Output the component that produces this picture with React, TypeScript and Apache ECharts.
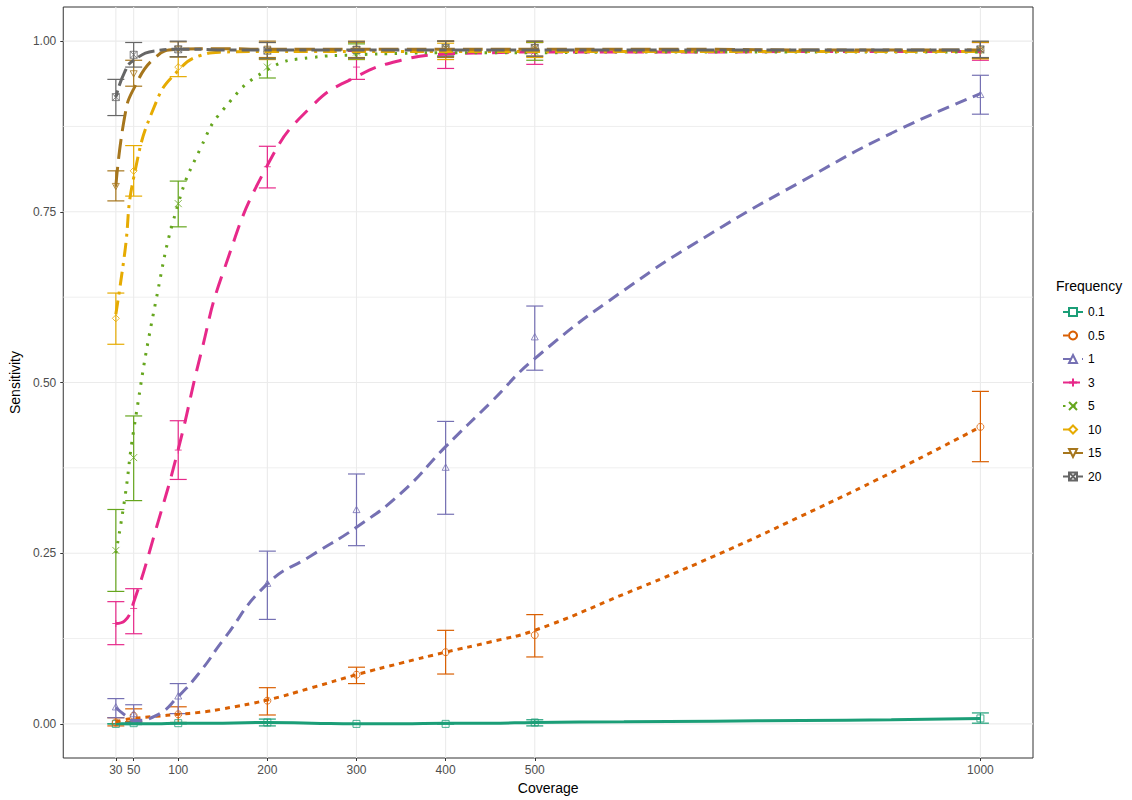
import React, { useEffect, useRef } from "react";
import * as echarts from "echarts";

const FONT = "Liberation Sans, Arial, sans-serif";

// Observed coverage levels (x axis breaks)
const coverage = [30, 50, 100, 200, 300, 400, 500, 1000];
const xTickLabels = ["30", "50", "100", "200", "300", "400", "500", "1000"];
const yTickValues = [0, 0.25, 0.5, 0.75, 1];
const yMinorValues = [0.125, 0.375, 0.625, 0.875];

const frequencies = ["0.1", "0.5", "1", "3", "5", "10", "15", "20"];
const colors = ["#1B9E77", "#D95F02", "#7570B3", "#E7298A", "#66A61E", "#E6AB02", "#A6761D", "#666666"];

// Mean sensitivity at each coverage, with error bar bounds
const mean01 = [0.0, 0.001, 0.001, 0.002, 0.0, 0.0, 0.002, 0.008];
const lo01 = [0.0, -0.001, 0.0, -0.003, 0.0, 0.0, -0.003, 0.001];
const hi01 = [0.0, 0.003, 0.002, 0.007, 0.0, 0.0, 0.006, 0.016];

const mean05 = [0.002, 0.012, 0.014, 0.034, 0.072, 0.105, 0.13, 0.435];
const lo05 = [-0.003, 0.003, 0.002, 0.013, 0.059, 0.073, 0.098, 0.384];
const hi05 = [0.009, 0.022, 0.025, 0.053, 0.083, 0.137, 0.16, 0.487];

const mean1 = [0.025, 0.015, 0.041, 0.206, 0.314, 0.376, 0.567, 0.922];
const lo1 = [0.009, 0.002, 0.015, 0.153, 0.261, 0.307, 0.518, 0.893];
const hi1 = [0.037, 0.028, 0.059, 0.253, 0.366, 0.443, 0.612, 0.95];

const mean3 = [0.147, 0.169, 0.401, 0.816, 0.962, 0.982, 0.983, 0.985];
const lo3 = [0.116, 0.132, 0.358, 0.785, 0.944, 0.96, 0.966, 0.972];
const hi3 = [0.179, 0.198, 0.444, 0.846, 0.985, 1.0, 0.998, 0.998];

const mean5 = [0.254, 0.39, 0.762, 0.962, 0.984, 0.99, 0.985, 0.987];
const lo5 = [0.194, 0.327, 0.728, 0.946, 0.973, 0.978, 0.972, 0.975];
const hi5 = [0.314, 0.451, 0.795, 0.975, 0.996, 1.0, 0.998, 0.999];

const mean10 = [0.594, 0.81, 0.962, 0.985, 0.986, 0.985, 0.988, 0.986];
const lo10 = [0.556, 0.773, 0.948, 0.973, 0.974, 0.973, 0.976, 0.974];
const hi10 = [0.631, 0.847, 0.977, 0.998, 0.998, 0.997, 0.999, 0.998];

const mean15 = [0.787, 0.952, 0.988, 0.988, 0.988, 0.988, 0.99, 0.987];
const lo15 = [0.766, 0.934, 0.977, 0.976, 0.976, 0.976, 0.978, 0.975];
const hi15 = [0.81, 0.972, 0.999, 1.0, 1.0, 1.0, 1.0, 0.999];

const mean20 = [0.918, 0.98, 0.988, 0.986, 0.987, 0.99, 0.99, 0.988];
const lo20 = [0.891, 0.962, 0.977, 0.974, 0.975, 0.978, 0.978, 0.976];
const hi20 = [0.944, 0.998, 1.0, 0.998, 0.999, 1.0, 1.0, 1.0];

// Smoothed fit curves
const fitCoverage = [30, 40, 50, 75, 100, 125, 150, 200, 250, 300, 350, 400, 450, 500, 600, 700, 800, 900, 1000];
const fit01 = [0.0, 0.0, 0.0, 0.0, 0.001, 0.001, 0.001, 0.002, 0.001, 0.0, 0.0, 0.001, 0.001, 0.002, 0.003, 0.004, 0.005, 0.006, 0.008];
const fit05 = [0.003, 0.006, 0.008, 0.011, 0.014, 0.017, 0.022, 0.035, 0.053, 0.072, 0.089, 0.105, 0.12, 0.137, 0.19, 0.245, 0.305, 0.368, 0.435];
const fit1 = [0.024, 0.013, 0.005, 0.012, 0.04, 0.077, 0.122, 0.205, 0.247, 0.288, 0.338, 0.406, 0.47, 0.535, 0.635, 0.72, 0.795, 0.865, 0.923];
const fit3 = [0.147, 0.151, 0.178, 0.285, 0.402, 0.54, 0.66, 0.818, 0.905, 0.948, 0.972, 0.981, 0.983, 0.984, 0.984, 0.984, 0.985, 0.985, 0.985];
const fit5 = [0.25, 0.33, 0.43, 0.62, 0.762, 0.843, 0.899, 0.958, 0.976, 0.98, 0.982, 0.983, 0.983, 0.983, 0.984, 0.984, 0.984, 0.984, 0.984];
const fit10 = [0.6, 0.69, 0.8, 0.91, 0.957, 0.979, 0.984, 0.985, 0.985, 0.985, 0.985, 0.985, 0.985, 0.985, 0.985, 0.985, 0.985, 0.985, 0.985];
const fit15 = [0.787, 0.89, 0.93, 0.977, 0.988, 0.989, 0.989, 0.988, 0.988, 0.988, 0.988, 0.988, 0.988, 0.988, 0.988, 0.988, 0.987, 0.987, 0.987];
const fit20 = [0.918, 0.955, 0.972, 0.986, 0.988, 0.988, 0.987, 0.987, 0.987, 0.987, 0.987, 0.987, 0.987, 0.987, 0.987, 0.987, 0.987, 0.987, 0.987];

const means = [mean01, mean05, mean1, mean3, mean5, mean10, mean15, mean20];
const lows = [lo01, lo05, lo1, lo3, lo5, lo10, lo15, lo20];
const highs = [hi01, hi05, hi1, hi3, hi5, hi10, hi15, hi20];
const fits = [fit01, fit05, fit1, fit3, fit5, fit10, fit15, fit20];

const symbols = [
  "path://M0,0H10V10H0Z",
  "circle",
  "path://M5,0L10,9L0,9Z",
  "path://M5,0V10M0,5H10",
  "path://M0,0L10,10M10,0L0,10",
  "path://M5,0L10,5L5,10L0,5Z",
  "path://M0,0H10L5,9Z",
  "path://M0,0H10V10H0ZM0,0L10,10M10,0L0,10",
];
const dashes: any[] = [
  "solid",
  [5, 5],
  [12, 7],
  [17, 10],
  [2.5, 7.5],
  [14, 6, 3, 6],
  [20, 8],
  [7, 5, 18, 5],
];

export default function App() {
  const ref = useRef<HTMLDivElement>(null);

  useEffect(() => {
    if (!ref.current) return;
    const chart = echarts.init(ref.current, null, { renderer: "svg" });

    const series: any[] = [];

    // grid lines
    series.push({
      type: "custom",
      name: "vgrid",
      silent: true,
      z: 0,
      data: coverage.map((c) => [c, 0]),
      encode: { x: 0, y: 1 },
      renderItem: (params: any, api: any) => {
        const p = api.coord([api.value(0), 0]);
        const cs = params.coordSys;
        return {
          type: "line",
          shape: { x1: p[0], y1: cs.y, x2: p[0], y2: cs.y + cs.height },
          style: { stroke: "#EBEBEB", lineWidth: 1.1 },
        };
      },
    });
    series.push({
      type: "custom",
      name: "hgrid",
      silent: true,
      z: 0,
      data: yTickValues.map((v) => [100, v, 1.1]).concat(yMinorValues.map((v) => [100, v, 0.8])),
      encode: { x: 0, y: 1 },
      renderItem: (params: any, api: any) => {
        const p = api.coord([100, api.value(1)]);
        const cs = params.coordSys;
        return {
          type: "line",
          shape: { x1: cs.x, y1: p[1], x2: cs.x + cs.width, y2: p[1] },
          style: { stroke: "#EBEBEB", lineWidth: api.value(2) },
        };
      },
    });

    frequencies.forEach((f, k) => {
      const color = colors[k];
      // error bars
      series.push({
        type: "custom",
        name: f + " err",
        silent: true,
        z: 2,
        data: coverage.map((c, i) => [c, lows[k][i], highs[k][i]]),
        encode: { x: 0, y: [1, 2] },
        renderItem: (_params: any, api: any) => {
          const x = api.value(0);
          const p1 = api.coord([x, api.value(1)]);
          const p2 = api.coord([x, api.value(2)]);
          const w = 8.5;
          const style = { stroke: color, lineWidth: 1.2 };
          return {
            type: "group",
            children: [
              { type: "line", shape: { x1: p1[0], y1: p1[1], x2: p2[0], y2: p2[1] }, style },
              { type: "line", shape: { x1: p1[0] - w, y1: p1[1], x2: p1[0] + w, y2: p1[1] }, style },
              { type: "line", shape: { x1: p2[0] - w, y1: p2[1], x2: p2[0] + w, y2: p2[1] }, style },
            ],
          };
        },
      });
      // points
      series.push({
        type: "scatter",
        name: f + " pts",
        silent: true,
        z: 3,
        symbol: symbols[k],
        symbolSize: 7,
        symbolKeepAspect: true,
        itemStyle: { color: "rgba(0,0,0,0)", borderColor: color, borderWidth: 1 },
        data: coverage.map((c, i) => [c, means[k][i]]),
      });
    });

    frequencies.forEach((f, k) => {
      const color = colors[k];
      series.push({
        type: "line",
        name: f,
        silent: true,
        z: 4,
        smooth: 0.5,
        showSymbol: false,
        symbol: symbols[k],
        symbolSize: 7,
        symbolKeepAspect: true,
        itemStyle: { color: "#ffffff", borderColor: color, borderWidth: 1 },
        lineStyle: { color, width: 3, type: dashes[k], cap: "butt" },
        data: fitCoverage.map((c, i) => [c, fits[k][i]]),
      });
    });

    chart.setOption({
      animation: false,
      backgroundColor: "#ffffff",
      textStyle: { fontFamily: FONT },
      grid: {
        left: 61,
        right: 99,
        top: 7,
        bottom: 42,
        show: true,
        borderColor: "#333333",
        borderWidth: 1,
        backgroundColor: "#ffffff",
        z: 0,
      },
      xAxis: {
        type: "value",
        min: -29,
        max: 1059,
        name: "Coverage",
        nameLocation: "middle",
        nameGap: 23,
        nameTextStyle: { color: "#000", fontSize: 14, fontFamily: FONT },
        axisLine: { show: false, onZero: false },
        splitLine: { show: false },
        axisTick: { show: true, length: 3, customValues: coverage, lineStyle: { color: "#333333" } },
        axisLabel: {
          customValues: coverage,
          color: "#4D4D4D",
          fontSize: 12,
          margin: 6,
          fontFamily: FONT,
          formatter: (v: number) => xTickLabels[coverage.indexOf(v)] ?? String(v),
        },
      },
      yAxis: {
        type: "value",
        min: -0.05,
        max: 1.05,
        name: "Sensitivity",
        nameLocation: "middle",
        nameGap: 40,
        nameTextStyle: { color: "#000", fontSize: 14, fontFamily: FONT },
        axisLine: { show: false, onZero: false },
        splitLine: { show: false },
        axisTick: { show: true, length: 3, customValues: yTickValues, lineStyle: { color: "#333333" } },
        axisLabel: {
          customValues: yTickValues,
          color: "#4D4D4D",
          fontSize: 12,
          margin: 7,
          fontFamily: FONT,
          formatter: (v: number) => v.toFixed(2),
        },
      },
      legend: {
        data: frequencies,
        orient: "vertical",
        left: 1057,
        top: 301,
        itemWidth: 20,
        itemHeight: 10,
        itemGap: 11.5,
        textStyle: { color: "#000", fontSize: 12, fontFamily: FONT },
        selectedMode: false,
      },
      graphic: [
        {
          type: "text",
          left: 1056,
          top: 279,
          style: { text: "Frequency", fill: "#000", fontSize: 14, fontFamily: FONT },
        },
      ],
      series,
    });

    return () => chart.dispose();
  }, []);

  return <div ref={ref} style={{ position: "absolute", left: 0, top: 0, width: 1132, height: 800 }} />;
}
